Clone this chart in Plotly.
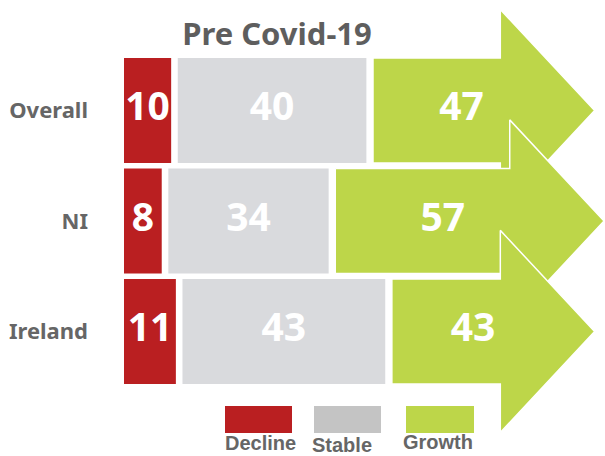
import plotly.graph_objects as go

# ---- data ----
categories = ["Overall", "NI", "Ireland"]
decline = [10, 8, 11]
stable = [40, 34, 43]
growth = [47, 57, 43]
legend_labels = ["Decline", "Stable", "Growth"]
title_text = "Pre Covid-19"

# ---- style ----
RED = "#BA1F21"
GREY = "#D9DADD"
GREEN = "#BDD649"
LEG_GREY = "#C4C4C4"
TXT = "#666666"
W, H = 605, 456
ML = 124
GAP = 1.4          # gap between segments (data units)
HEAD = 20          # arrow head length (data units)
BODY_HALF = 0.475  # half bar thickness (category units)
HEAD_HALF = 0.915  # half arrow-head height (category units)
XMAX = 102
YR = [3.127, -1.0]

rows = list(range(len(categories)))
n = len(rows)

fig = go.Figure()

fig.add_trace(go.Bar(orientation="h", y=rows, x=decline, base=[0] * n, width=2 * BODY_HALF,
                     marker=dict(color=RED, line=dict(width=0)), hoverinfo="skip", showlegend=False))
stable_base = [d + GAP for d in decline]
fig.add_trace(go.Bar(orientation="h", y=rows, x=stable, base=stable_base, width=2 * BODY_HALF,
                     marker=dict(color=GREY, line=dict(width=0)), hoverinfo="skip", showlegend=False))

growth_start = [decline[i] + GAP + stable[i] + GAP for i in rows]
for i in rows:
    s = growth_start[i]
    tip = s + growth[i]
    neck = tip - HEAD
    y = rows[i]
    xs = [s, neck, neck, tip, neck, neck, s, s]
    ys = [y - BODY_HALF, y - BODY_HALF, y - HEAD_HALF, y, y + HEAD_HALF,
          y + BODY_HALF, y + BODY_HALF, y - BODY_HALF]
    fig.add_trace(go.Scatter(x=xs, y=ys, mode="lines", fill="toself", fillcolor=GREEN,
                             line=dict(color="white", width=1.5), hoverinfo="skip", showlegend=False))

label_font = dict(family="Noto Sans", size=39, color="white", weight="bold")
fig.add_trace(go.Scatter(x=[d / 2 for d in decline], y=rows, mode="text",
                         text=[str(v) for v in decline], textfont=label_font,
                         hoverinfo="skip", showlegend=False))
fig.add_trace(go.Scatter(x=[stable_base[i] + stable[i] / 2 for i in rows], y=rows, mode="text",
                         text=[str(v) for v in stable], textfont=label_font,
                         hoverinfo="skip", showlegend=False))
fig.add_trace(go.Scatter(x=[growth_start[i] + 0.4 * growth[i] for i in rows], y=rows, mode="text",
                         text=[str(v) for v in growth], textfont=label_font,
                         hoverinfo="skip", showlegend=False))


def px(xp):
    return (xp - ML) / (W - ML)


def py(yp):
    return 1 - yp / H


# legend
leg_rects = [(225, 292, RED), (314, 381, LEG_GREY), (406, 474, GREEN)]
leg_text_pos = [(224, 443), (311, 445), (402, 442)]
shapes = []
annotations = []
for (x0, x1, c), lab, (tx, ty) in zip(leg_rects, legend_labels, leg_text_pos):
    shapes.append(dict(type="rect", xref="paper", yref="paper", x0=px(x0), x1=px(x1),
                       y0=py(433), y1=py(406), fillcolor=c, line=dict(width=0), layer="above"))
    annotations.append(dict(xref="paper", yref="paper", x=px(tx), y=py(ty), text=lab,
                            xanchor="left", yanchor="middle", showarrow=False, borderpad=0,
                            font=dict(family="Liberation Sans", size=20, color=TXT, weight="bold")))

fig.update_layout(
    width=W, height=H,
    margin=dict(l=ML, r=0, t=0, b=0),
    paper_bgcolor="white", plot_bgcolor="white",
    barmode="overlay",
    showlegend=False,
    title=dict(text=title_text, x=277 / W, xref="container", xanchor="center",
               y=1 - 34 / H, yref="container", yanchor="middle",
               font=dict(family="Noto Sans", size=31, color="#5E5E5E", weight="bold")),
    xaxis=dict(range=[0, XMAX], visible=False, fixedrange=True, automargin=False),
    yaxis=dict(range=YR, tickvals=rows, ticktext=categories, showgrid=False, zeroline=False,
               showline=False, ticks="", ticklabelstandoff=35, automargin=False, fixedrange=True,
               tickfont=dict(family="Noto Sans", size=22, color=TXT, weight="bold")),
    shapes=shapes,
    annotations=annotations,
)

fig.write_html("out.html", config={"displayModeBar": False},
               post_script="document.body.style.margin='0px';")
